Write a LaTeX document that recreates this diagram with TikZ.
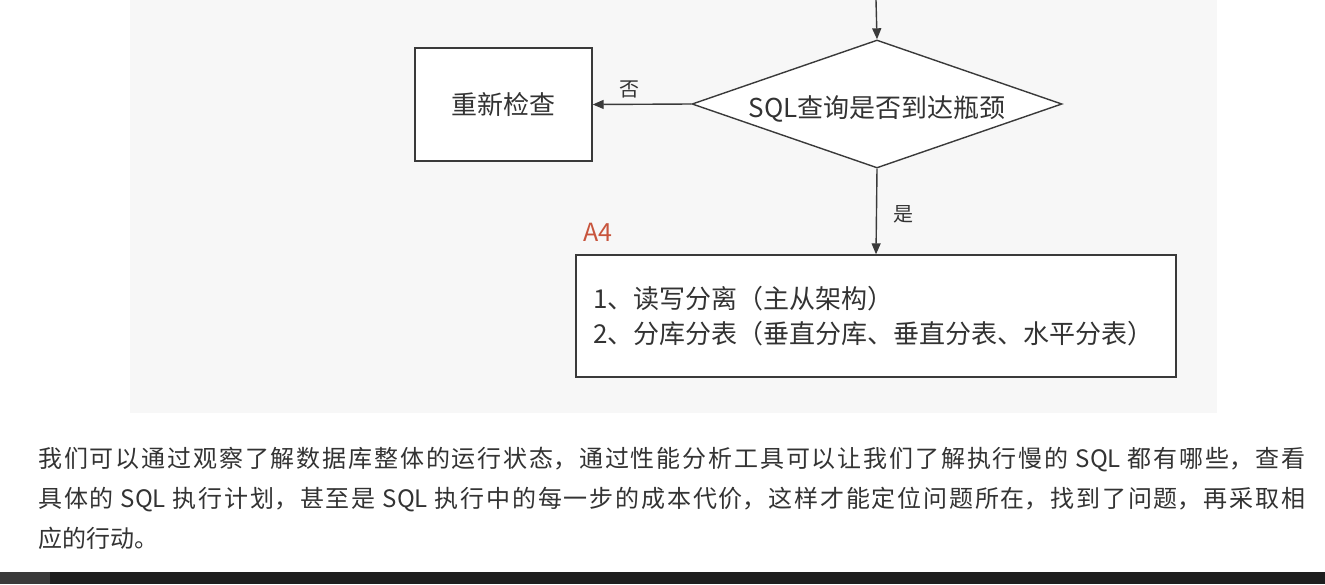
\documentclass[tikz,border=0pt]{standalone}
\usepackage{fontspec}
\setmainfont{Noto Sans CJK SC}
\usetikzlibrary{shapes.geometric,arrows.meta}
\XeTeXlinebreaklocale "zh"
\XeTeXlinebreakskip=0pt plus 3pt
\definecolor{inkgray}{HTML}{333333}
\definecolor{linegray}{HTML}{3A3A3A}
\definecolor{panelgray}{HTML}{F7F7F7}
\definecolor{tagred}{HTML}{C8553D}
\definecolor{barblack}{HTML}{1E1E1E}
\definecolor{bargray}{HTML}{3A3A3A}

\begin{document}
\begin{tikzpicture}[x=1pt,y=-1pt]
\tikzset{mainline/.style={line width=1.4pt,color=linegray,-{Triangle[length=11pt,width=9pt]}}};
\tikzset{flowbox/.style={draw=linegray,line width=1.4pt,fill=white,text=inkgray,inner sep=0pt}};
\tikzset{edgelabel/.style={inner sep=0pt,text=inkgray,font=\fontsize{20}{24}\selectfont}};

\useasboundingbox (0,0) rectangle (1325,584);
\fill[white] (0,0) rectangle (1325,584);
\fill[panelgray] (130,0) rectangle (1217,413);
\fill[barblack] (0,572) rectangle (1325,584);
\fill[bargray] (0,572) rectangle (50,584);

\coordinate (top) at (876,0);

\node[flowbox, diamond, aspect=2.9, minimum width=370, minimum height=128, text height=30pt, text depth=3pt, font=\fontsize{26}{30}\selectfont] (bottleneck) at (877,104) {SQL查询是否到达瓶颈};
\node[flowbox, minimum width=177, minimum height=113, font=\fontsize{26}{30}\selectfont] (recheck) at (503.5,104.5) {重新检查};
\node[flowbox, minimum width=600, minimum height=122, text width=566, align=left, font=\fontsize{26}{35}\selectfont] (plan) at (876,316) {1、读写分离（主从架构）\\2、分库分表（垂直分库、垂直分表、水平分表）};
\node[inner sep=0pt, text=tagred, font=\fontsize{25}{30}\selectfont, anchor=west] (tag) at (583,232) {A4};

\draw[mainline] (top) -- (bottleneck.north);
\draw[mainline] (bottleneck.west) -- (recheck.east) node[edgelabel, pos=0.63, above=6pt] (no) {否};
\draw[mainline] (bottleneck.south) -- (plan.north) node[edgelabel, pos=0.53, right=16pt] (yes) {是};

\node[inner sep=0pt, anchor=north west, text width=1267, align=justify, text=inkgray, font=\fontsize{24}{40}\selectfont] (note) at (38,447) {我们可以通过观察了解数据库整体的运行状态，通过性能分析工具可以让我们了解执行慢的 SQL 都有哪些，查看\linebreak 具体的 SQL 执行计划，甚至是 SQL 执行中的每一步的成本代价，这样才能定位问题所在，找到了问题，再采取相\linebreak 应的行动。};
\end{tikzpicture}
\end{document}
